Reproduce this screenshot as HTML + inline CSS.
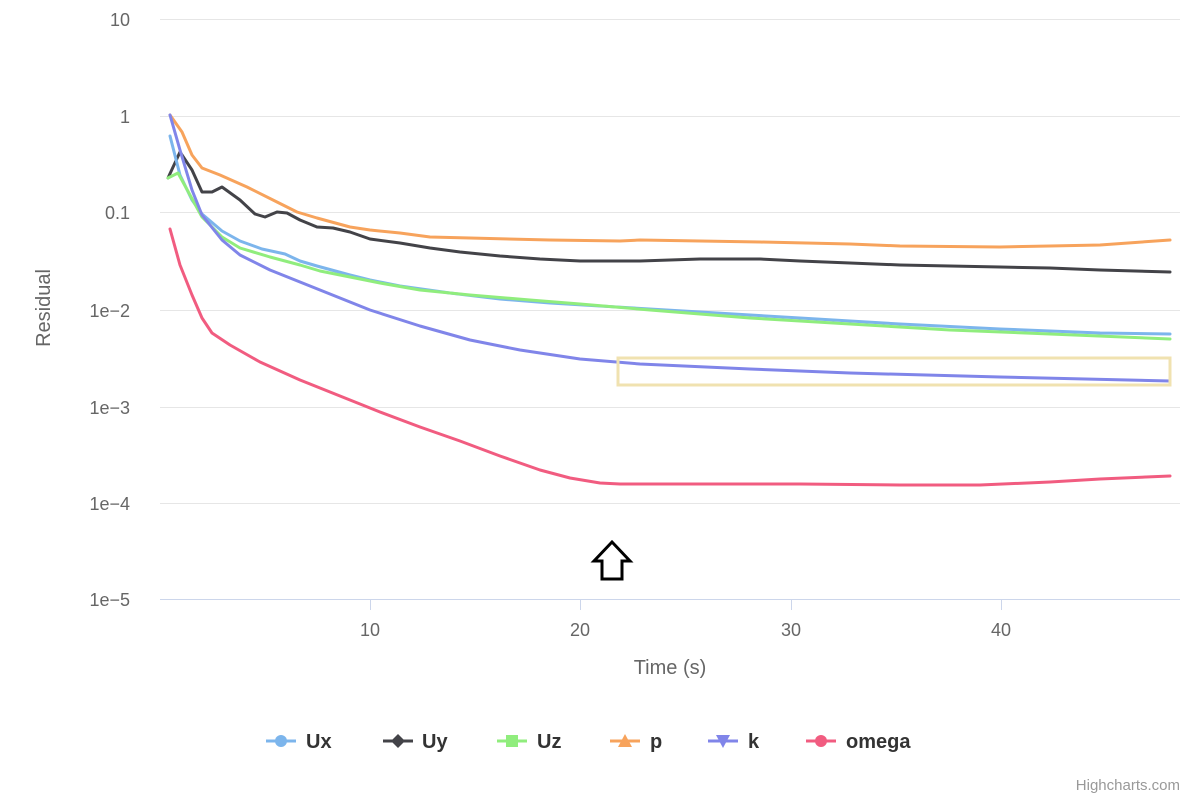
<!DOCTYPE html>
<html><head><style>body{margin:0;background:#fff}svg{display:block}text{font-family:"Liberation Sans","DejaVu Sans",sans-serif}</style></head><body>
<svg width="1200" height="800" viewBox="0 0 1200 800" xmlns="http://www.w3.org/2000/svg">
<g stroke="#e6e6e6" stroke-width="1">
<line x1="160" y1="19.5" x2="1180" y2="19.5"/><line x1="160" y1="116.5" x2="1180" y2="116.5"/><line x1="160" y1="212.5" x2="1180" y2="212.5"/><line x1="160" y1="310.5" x2="1180" y2="310.5"/><line x1="160" y1="407.5" x2="1180" y2="407.5"/><line x1="160" y1="503.5" x2="1180" y2="503.5"/>
</g>
<line x1="160" y1="599.5" x2="1180" y2="599.5" stroke="#ccd6eb"/>
<g stroke="#ccd6eb"><line x1="370.5" y1="600" x2="370.5" y2="610"/><line x1="580.5" y1="600" x2="580.5" y2="610"/><line x1="791.5" y1="600" x2="791.5" y2="610"/><line x1="1001.5" y1="600" x2="1001.5" y2="610"/></g>
<g fill="#666" font-size="18" text-anchor="end">
<text x="130" y="26">10</text><text x="130" y="123">1</text><text x="130" y="219">0.1</text><text x="130" y="317">1e−2</text><text x="130" y="414">1e−3</text><text x="130" y="510">1e−4</text><text x="130" y="606">1e−5</text>
</g>
<g fill="#666" font-size="18" text-anchor="middle">
<text x="370" y="636">10</text><text x="580" y="636">20</text><text x="791" y="636">30</text><text x="1001" y="636">40</text>
<text x="670" y="674" font-size="20">Time (s)</text>
<text transform="translate(50,308) rotate(-90)" font-size="20">Residual</text>
</g>
<g fill="none" stroke-width="3" stroke-linejoin="round" stroke-linecap="round">
<polyline stroke="#f7a35c" points="170,115 182,132 192,155 202,168 220,175 247,187 277,202 297,212 317,218 350,227 370,230 400,233 430,237 470,238 550,240 620,241 640,240 700,241 760,242 850,244 900,246 1000,247 1050,246 1100,245 1170,240"/>
<polyline stroke="#434348" points="168,178 180,152 192,170 202,192 212,192 222,187 240,200 255,214 265,217 277,212 287,213 300,220 317,227 333,228 350,232 370,239 400,243 430,248 460,252 500,256 540,259 580,261 640,261 700,259 760,259 800,261 850,263 900,265 950,266 1000,267 1050,268 1100,270 1170,272"/>
<polyline stroke="#7cb5ec" points="170,136 180,175 192,200 202,214 222,231 240,241 262,249 285,254 300,261 317,266 350,275 370,280 400,286 450,293 500,299 550,303 600,306 700,312 800,318 900,324 1000,329 1100,333 1170,334"/>
<polyline stroke="#90ed7d" points="168,178 178,173 190,195 202,217 222,237 240,248 270,257 300,265 320,271 350,277 380,283 420,290 470,295 530,300 580,304 650,310 750,318 850,324 950,330 1050,334 1170,339"/>
<polyline stroke="#8085e9" points="170,115 180,150 192,190 202,215 222,240 240,255 270,270 300,282 330,294 370,310 420,326 470,340 520,350 580,359 640,364 750,369 850,373 1000,377 1170,381"/>
<polyline stroke="#f15c80" points="170,229 180,265 192,295 202,318 212,333 230,345 260,362 300,380 340,396 380,412 420,427 460,441 500,456 540,470 570,478 600,483 620,484 700,484 800,484 900,485 980,485 1050,482 1100,479 1170,476"/>
</g>
<rect x="618" y="358" width="552" height="27" fill="none" stroke="#f0e2b0" stroke-width="3"/>
<path d="M612,542 L630,561 L622,561 L622,579 L602,579 L602,561 L594,561 Z" fill="#fff" stroke="#000" stroke-width="3" stroke-linejoin="miter"/>
<g font-size="20" font-weight="bold" fill="#333">
<line x1="266" y1="741" x2="296" y2="741" stroke="#7cb5ec" stroke-width="3"/><circle cx="281" cy="741" r="6" fill="#7cb5ec"/><text x="306" y="748">Ux</text>
<line x1="383" y1="741" x2="413" y2="741" stroke="#434348" stroke-width="3"/><path d="M398,734 L405,741 L398,748 L391,741Z" fill="#434348"/><text x="422" y="748">Uy</text>
<line x1="497" y1="741" x2="527" y2="741" stroke="#90ed7d" stroke-width="3"/><rect x="506" y="735" width="12" height="12" fill="#90ed7d"/><text x="537" y="748">Uz</text>
<line x1="610" y1="741" x2="640" y2="741" stroke="#f7a35c" stroke-width="3"/><path d="M625,734 L632,747 L618,747Z" fill="#f7a35c"/><text x="650" y="748">p</text>
<line x1="708" y1="741" x2="738" y2="741" stroke="#8085e9" stroke-width="3"/><path d="M716,735 L730,735 L723,748Z" fill="#8085e9"/><text x="748" y="748">k</text>
<line x1="806" y1="741" x2="836" y2="741" stroke="#f15c80" stroke-width="3"/><circle cx="821" cy="741" r="6" fill="#f15c80"/><text x="846" y="748">omega</text>
</g>
<text x="1180" y="790" font-size="15" fill="#999" text-anchor="end">Highcharts.com</text>
</svg>
</body></html>
